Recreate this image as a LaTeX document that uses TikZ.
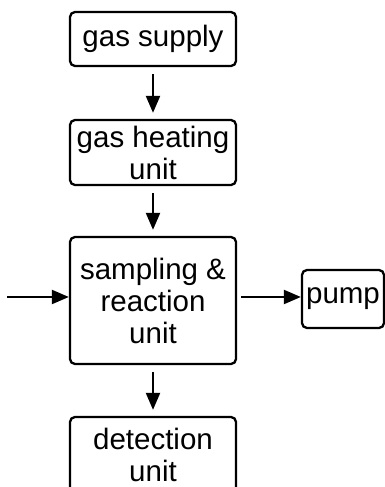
\documentclass[tikz,border=0pt]{standalone}
\usepackage{fontspec}
\setmainfont{Liberation Sans}
\usetikzlibrary{arrows.meta}
\begin{document}
\begin{tikzpicture}[x=1pt,y=1pt,
  unitbox/.style={draw=black, line width=2.3pt, rounded corners=5pt, inner sep=0pt,
    align=center, font=\fontsize{29.5}{32}\selectfont, minimum width=166pt},
  flow/.style={line width=2.2pt, -{Triangle[length=17pt,width=14pt]}}]
  \useasboundingbox (0,0) rectangle (385,487);
  % process blocks
  \node[unitbox, minimum height=54pt]  (supply)  at (153,448)   {gas supply};
  \node[unitbox, minimum height=65pt]  (heating) at (153,334.5) {gas heating\\unit};
  \node[unitbox, minimum height=127pt] (react)   at (153,186.5) {sampling \&\\reaction\\unit};
  \node[unitbox, minimum height=76pt]  (detect)  at (153,32)    {detection\\unit};
  \node[unitbox, minimum width=82pt, minimum height=58pt] (pump) at (343,188) {pump};
  % flow between blocks
  \coordinate (feed) at (7,190);
  \draw[flow, shorten <=7pt, shorten >=6pt] (supply) -- (heating);
  \draw[flow, shorten <=7pt, shorten >=6pt] (heating) -- (react);
  \draw[flow, shorten <=7pt, shorten >=6pt] (react) -- (detect);
  \draw[flow] (feed) -- (feed -| react.west);
  \draw[flow, shorten <=4pt] (feed -| react.east) -- (feed -| pump.west);
\end{tikzpicture}
\end{document}
